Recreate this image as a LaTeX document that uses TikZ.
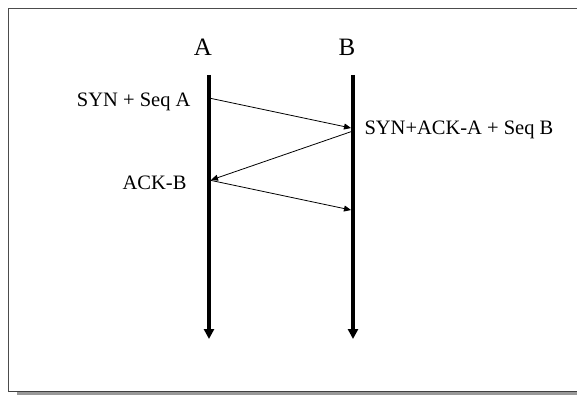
\documentclass[tikz,border=0pt]{standalone}
\usepackage{fontspec}
\setmainfont{Liberation Serif}
\usetikzlibrary{arrows.meta}
\begin{document}
\begin{tikzpicture}[x=1pt,y=-1pt,
  lifeline/.style={line width=3.6pt,-{Triangle[length=10pt,width=10pt]}},
  msg/.style={line width=0.8pt,-{Triangle[length=7pt,width=6pt]}},
  head/.style={font=\fontsize{25}{28}\selectfont},
  lbl/.style={font=\fontsize{20.5}{24}\selectfont}]
\useasboundingbox (0,0) rectangle (577,395);
% framed panel with a drop shadow
\fill[gray!80] (17,392) rectangle (577,395);
\draw[line width=1.2pt,black!70] (8.7,392) -- (8.7,8.7) -- (577,8.7);
\draw[line width=1.2pt,black!75] (8.7,391.6) -- (577,391.6);
% endpoints
\node[head] (hA) at (203,47) {A};
\node[head] (hB) at (347,47) {B};
\coordinate (a0) at (209,75);
\coordinate (a1) at (209,339);
\coordinate (b0) at (353,75);
\coordinate (b1) at (353,339);
\draw[lifeline] (a0) -- (a1);
\draw[lifeline] (b0) -- (b1);
% handshake messages
\coordinate (m1s) at (209,98);
\coordinate (m1e) at (351,128);
\coordinate (m2s) at (353,131);
\coordinate (m2e) at (211,180);
\coordinate (m3s) at (209,180);
\coordinate (m3e) at (351,210);
\draw[msg] (m1s) -- (m1e);
\draw[msg] (m2s) -- (m2e);
\draw[msg] (m3s) -- (m3e);
\node[lbl,anchor=east] (l1) at (194,102) {SYN + Seq A};
\node[lbl,anchor=west] (l2) at (361,130) {SYN+ACK-A + Seq B};
\node[lbl,anchor=east] (l3) at (190,183) {ACK-B};
\end{tikzpicture}
\end{document}
